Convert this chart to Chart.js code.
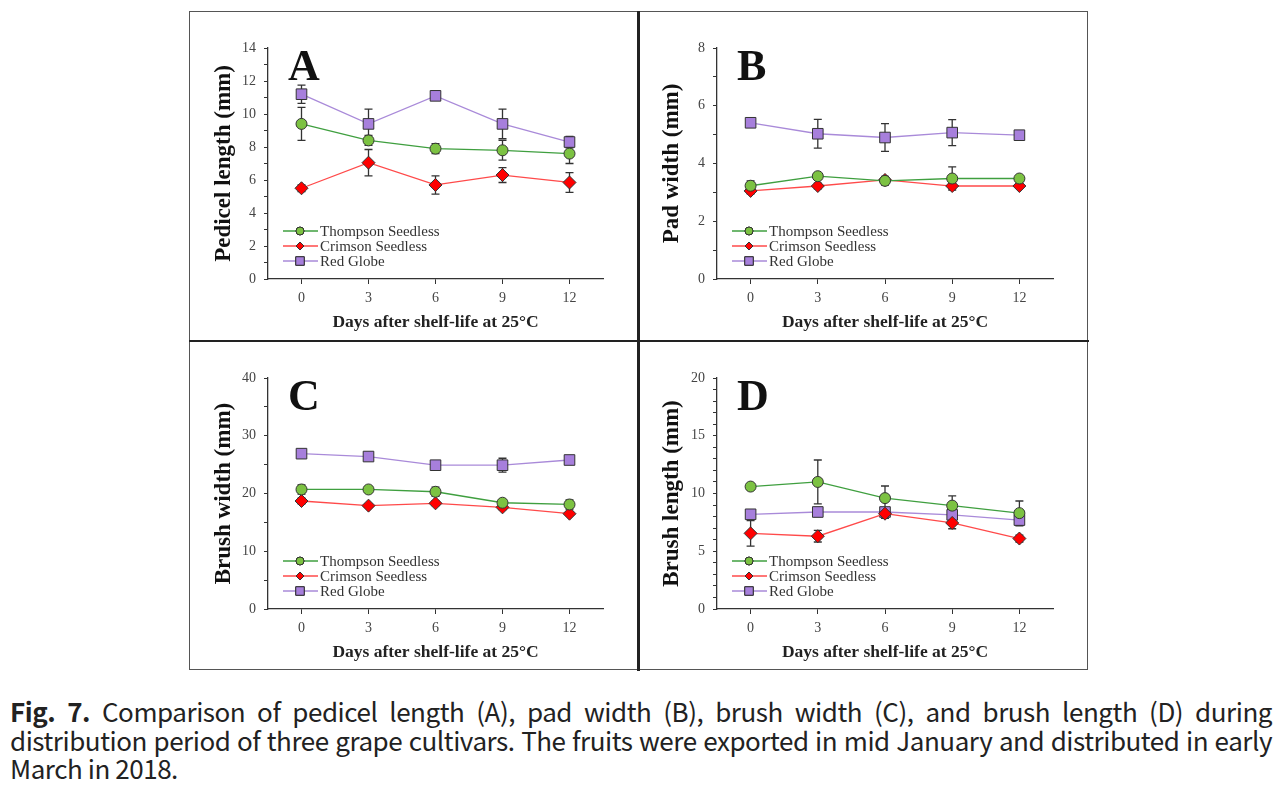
<!DOCTYPE html>
<html>
<head>
<meta charset="utf-8">
<script src="https://cdn.jsdelivr.net/npm/chart.js@4.4.0/dist/chart.umd.min.js"></script>
<style>
  body { margin: 0; background: #fff; width: 1288px; height: 792px; position: relative; overflow: hidden; }
  .frame { position: absolute; left: 189px; top: 11px; width: 897px; height: 657px; border: 1.5px solid #555; }
  .vline { position: absolute; left: 637px; top: 11px; width: 2.5px; height: 660px; background: #222; }
  .hline { position: absolute; left: 189px; top: 339.5px; width: 900px; height: 2.5px; background: #222; }
  canvas { position: absolute; }
  #caption { position: absolute; left: 10px; top: 697px; width: 1262px; font-family: "Noto Sans CJK KR", "Noto Sans", sans-serif;
    font-size: 26px; letter-spacing: -0.45px; line-height: 28.5px; color: #222; text-align: justify; }
</style>
</head>
<body>
<div class="frame"></div>
<canvas id="chartA" style="left:192px;top:14px" width="444" height="324"></canvas>
<canvas id="chartB" style="left:640px;top:14px" width="446" height="324"></canvas>
<canvas id="chartC" style="left:192px;top:342px" width="444" height="326"></canvas>
<canvas id="chartD" style="left:640px;top:342px" width="446" height="326"></canvas>
<div class="vline"></div>
<div class="hline"></div>
<div id="caption"><b>Fig. 7.</b> Comparison of pedicel length (A), pad width (B), brush width (C), and brush length (D) during distribution period of three grape cultivars. The fruits were exported in mid January and distributed in early March in 2018.</div>
<script>
const days = [0, 3, 6, 9, 12];
const seriesNames = ['Thompson Seedless', 'Crimson Seedless', 'Red Globe'];

// A - pedicel length
const pedicelThompson = [9.4, 8.4, 7.9, 7.8, 7.6];
const pedicelThompsonErr = [1.0, 0.3, 0.3, 0.6, 0.6];
const pedicelCrimson = [5.5, 7.05, 5.7, 6.3, 5.85];
const pedicelCrimsonErr = [0.2, 0.8, 0.55, 0.45, 0.6];
const pedicelRedGlobe = [11.2, 9.4, 11.1, 9.4, 8.3];
const pedicelRedGlobeErr = [0.55, 0.9, 0.1, 0.9, 0.35];

// B - pad width
const padThompson = [3.23, 3.56, 3.4, 3.48, 3.48];
const padThompsonErr = [0.17, 0.1, 0.15, 0.4, 0.05];
const padCrimson = [3.05, 3.22, 3.43, 3.22, 3.22];
const padCrimsonErr = [0.1, 0.1, 0.1, 0.1, 0.05];
const padRedGlobe = [5.41, 5.03, 4.9, 5.07, 4.98];
const padRedGlobeErr = [0.05, 0.5, 0.48, 0.45, 0.05];

// C - brush width
const brushWThompson = [20.7, 20.7, 20.3, 18.4, 18.1];
const brushWThompsonErr = [0.8, 0.3, 0.8, 0.3, 0.8];
const brushWCrimson = [18.7, 17.9, 18.3, 17.6, 16.5];
const brushWCrimsonErr = [0.5, 0.3, 0.4, 0.4, 0.3];
const brushWRedGlobe = [26.9, 26.4, 24.9, 24.9, 25.8];
const brushWRedGlobeErr = [0.3, 0.3, 0.3, 1.2, 0.3];

// D - brush length
const brushLThompson = [10.6, 11.0, 9.6, 8.95, 8.3];
const brushLThompsonErr = [0.2, 1.9, 1.05, 0.85, 1.05];
const brushLCrimson = [6.55, 6.3, 8.25, 7.45, 6.1];
const brushLCrimsonErr = [1.1, 0.5, 0.4, 0.5, 0.3];
const brushLRedGlobe = [8.2, 8.4, 8.4, 8.15, 7.7];
const brushLRedGlobeErr = [0.3, 0.4, 0.3, 0.3, 0.5];

const serif = "'Liberation Serif', 'DejaVu Serif', serif";

// line colour, marker fill, marker shape, marker radius
const styles = [
    { line: '#3f9f3f', fill: '#7cc242', shape: 'circle', r: 5.5, legendR: 4 },
    { line: '#ff4a4a', fill: '#ff0000', shape: 'rectRot', r: 6.5, legendR: 4 },
    { line: '#a98ad9', fill: '#a77fdc', shape: 'rect', r: 7.5, legendR: 6 }
];

// error bars, drawn under the markers
const errorBars = {
    id: 'errorBars',
    beforeDatasetsDraw(chart) {
        const ctx = chart.ctx;
        const ys = chart.scales.y, xs = chart.scales.x;
        ctx.save();
        ctx.strokeStyle = '#333';
        ctx.lineWidth = 1.3;
        chart.data.datasets.forEach(ds => {
            ds.data.forEach((p, i) => {
                const e = ds.errors[i];
                const x = xs.getPixelForValue(p.x);
                const y1 = ys.getPixelForValue(p.y + e);
                const y2 = ys.getPixelForValue(p.y - e);
                ctx.beginPath();
                ctx.moveTo(x, y1); ctx.lineTo(x, y2);
                ctx.moveTo(x - 4, y1); ctx.lineTo(x + 4, y1);
                ctx.moveTo(x - 4, y2); ctx.lineTo(x + 4, y2);
                ctx.stroke();
            });
        });
        ctx.restore();
    }
};

// panel letter and the legend inside the plot
const panelDecor = {
    id: 'panelDecor',
    afterDraw(chart) {
        const ctx = chart.ctx;
        const a = chart.chartArea;
        ctx.save();
        ctx.fillStyle = '#111';
        ctx.font = 'bold 44px ' + serif;
        ctx.textBaseline = 'alphabetic';
        ctx.fillText(chart.options.plugins.panelDecor.letter, a.left + 20, a.top + 32);

        ctx.font = '15px ' + serif;
        ctx.textBaseline = 'middle';
        chart.data.datasets.forEach((ds, i) => {
            const st = styles[i];
            const y = a.bottom - 48 + i * 15;
            ctx.strokeStyle = st.line;
            ctx.lineWidth = 1.3;
            ctx.beginPath();
            ctx.moveTo(a.left + 15, y); ctx.lineTo(a.left + 50, y);
            ctx.stroke();
            ctx.fillStyle = st.fill;
            ctx.strokeStyle = '#333';
            ctx.lineWidth = 1;
            Chart.helpers.drawPoint(ctx, { pointStyle: st.shape, radius: st.legendR, borderWidth: 1, rotation: 0 }, a.left + 32, y);
            ctx.fill();
            ctx.stroke();
            ctx.fillStyle = '#333';
            ctx.fillText(ds.label, a.left + 52, y + 1);
        });
        ctx.restore();
    }
};

function makeDataset(i, values, errs) {
    const st = styles[i];
    return {
        label: seriesNames[i],
        data: days.map((d, k) => ({ x: d, y: values[k] })),
        errors: errs,
        showLine: true,
        borderColor: st.line,
        borderWidth: 1.3,
        pointStyle: st.shape,
        pointRadius: st.r,
        pointBackgroundColor: st.fill,
        pointBorderColor: '#333',
        pointBorderWidth: 1
    };
}

function makeChart(id, letter, yTitle, yMax, yStep, yLabelStep, yWidth, topPad, sets) {
    new Chart(document.getElementById(id), {
        type: 'scatter',
        data: { datasets: sets },
        plugins: [errorBars, panelDecor],
        options: {
            responsive: false,
            animation: false,
            layout: { padding: { top: topPad, right: 33, left: 0, bottom: 0 } },
            plugins: {
                legend: { display: false },
                tooltip: { enabled: false },
                panelDecor: { letter: letter }
            },
            scales: {
                x: {
                    type: 'linear', min: -1.5, max: 13.5,
                    afterBuildTicks: s => { s.ticks = days.map(v => ({ value: v })); },
                    afterFit: s => { s.height = 59; },
                    border: { color: '#333', width: 1.3 },
                    grid: { drawOnChartArea: false, drawTicks: true, tickLength: 5, tickColor: '#333' },
                    ticks: { color: '#444', font: { family: serif, size: 14 }, padding: 6, maxRotation: 0, autoSkip: false },
                    title: { display: true, text: 'Days after shelf-life at 25\u00B0C', color: '#222',
                        font: { family: serif, size: 17.5, weight: 'bold' }, padding: { top: 0, bottom: 5 } }
                },
                y: {
                    min: 0, max: yMax,
                    afterFit: s => { s.width = yWidth; },
                    border: { color: '#333', width: 1.3 },
                    grid: { drawOnChartArea: false, drawTicks: true, tickLength: 4, tickColor: '#333' },
                    ticks: { stepSize: yStep, autoSkip: false, color: '#444', font: { family: serif, size: 14 }, padding: 8,
                        callback: v => (Math.abs(v / yLabelStep - Math.round(v / yLabelStep)) < 1e-6 ? v : '') },
                    title: { display: true, text: yTitle, color: '#111',
                        font: { family: serif, size: 23, weight: 'bold' }, padding: { top: 18, bottom: 0 } }
                }
            }
        }
    });
}

makeChart('chartA', 'A', 'Pedicel length (mm)', 14, 1, 2, 76, 34, [
    makeDataset(0, pedicelThompson, pedicelThompsonErr),
    makeDataset(1, pedicelCrimson, pedicelCrimsonErr),
    makeDataset(2, pedicelRedGlobe, pedicelRedGlobeErr)
]);
makeChart('chartB', 'B', 'Pad width (mm)', 8, 1, 2, 77, 34, [
    makeDataset(0, padThompson, padThompsonErr),
    makeDataset(1, padCrimson, padCrimsonErr),
    makeDataset(2, padRedGlobe, padRedGlobeErr)
]);
makeChart('chartC', 'C', 'Brush width (mm)', 40, 5, 10, 76, 36, [
    makeDataset(0, brushWThompson, brushWThompsonErr),
    makeDataset(1, brushWCrimson, brushWCrimsonErr),
    makeDataset(2, brushWRedGlobe, brushWRedGlobeErr)
]);
makeChart('chartD', 'D', 'Brush length (mm)', 20, 1, 5, 77, 36, [
    makeDataset(0, brushLThompson, brushLThompsonErr),
    makeDataset(1, brushLCrimson, brushLCrimsonErr),
    makeDataset(2, brushLRedGlobe, brushLRedGlobeErr)
]);
</script>
</body>
</html>
